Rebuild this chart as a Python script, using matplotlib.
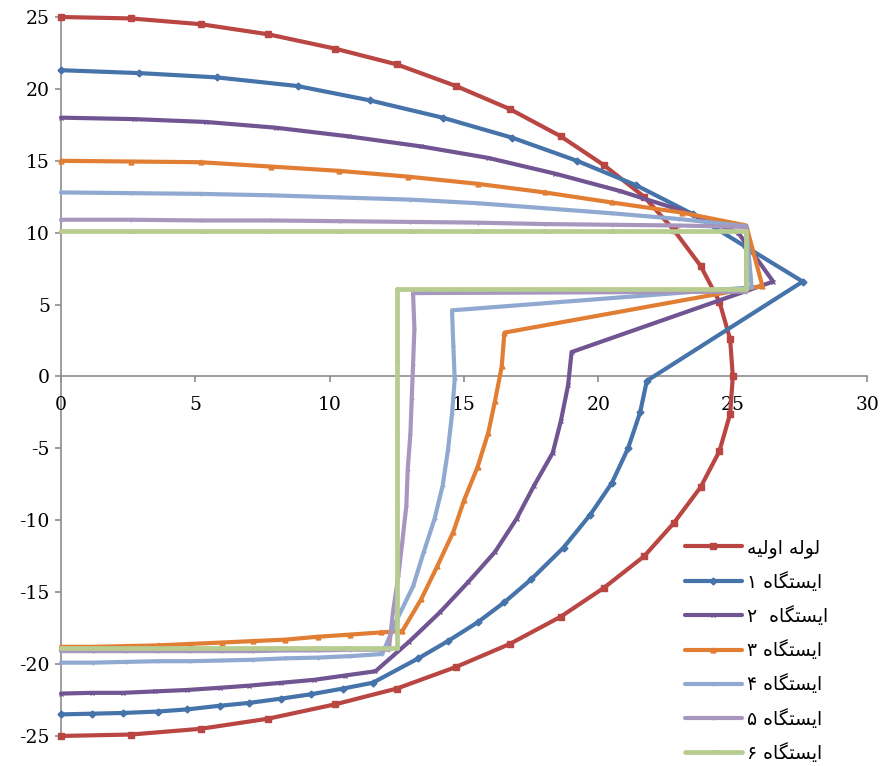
import matplotlib
matplotlib.use("Agg")
import matplotlib.pyplot as plt

plt.rcParams["axes.unicode_minus"] = False

# values (x, y pairs per series)
pipe_x = [0, 2.6, 5.2, 7.7, 10.2, 12.5, 14.7, 16.7, 18.6, 20.2, 21.7, 22.8, 23.8, 24.5, 24.9, 25.0,
          24.9, 24.5, 23.8, 22.8, 21.7, 20.2, 18.6, 16.7, 14.7, 12.5, 10.2, 7.7, 5.2, 2.6, 0]
pipe_y = [25, 24.9, 24.5, 23.8, 22.8, 21.7, 20.2, 18.6, 16.7, 14.7, 12.5, 10.2, 7.7, 5.2, 2.6, 0,
          -2.6, -5.2, -7.7, -10.2, -12.5, -14.7, -16.7, -18.6, -20.2, -21.7, -22.8, -23.8, -24.5, -24.9, -25]

st1_x = [0, 2.9, 5.8, 8.8, 11.5, 14.2, 16.8, 19.2, 21.4, 23.5, 25.5, 27.6,
         21.8, 21.55, 21.1, 20.5, 19.7, 18.7, 17.5, 16.5, 15.5, 14.4, 13.3, 11.6,
         10.5, 9.3, 8.2, 7.0, 5.9, 4.7, 3.6, 2.3, 1.15, 0]
st1_y = [21.3, 21.1, 20.8, 20.2, 19.2, 18.0, 16.6, 15.0, 13.3, 11.3, 9.0, 6.6,
         -0.3, -2.5, -5.0, -7.4, -9.6, -11.9, -14.1, -15.7, -17.1, -18.4, -19.6, -21.3,
         -21.7, -22.1, -22.4, -22.7, -22.9, -23.15, -23.3, -23.4, -23.45, -23.5]

st2_x = [0, 2.7, 5.4, 8.0, 10.7, 13.4, 15.9, 18.4, 20.8, 23.0, 25.2, 26.5,
         19.0, 18.87, 18.6, 18.3, 17.6, 16.95, 16.15, 15.15, 14.1, 12.95, 11.7,
         10.55, 9.4, 8.2, 7.0, 5.9, 4.7, 3.5, 2.3, 1.15, 0]
st2_y = [18.0, 17.9, 17.7, 17.3, 16.7, 16.0, 15.2, 14.1, 12.9, 11.6, 10.0, 6.6,
         1.7, -0.6, -3.1, -5.3, -7.6, -9.9, -12.2, -14.3, -16.4, -18.45, -20.5,
         -20.8, -21.1, -21.3, -21.5, -21.65, -21.8, -21.9, -22.0, -22.0, -22.05]

st3_x = [0, 2.6, 5.2, 7.8, 10.35, 12.9, 15.5, 18.0, 20.5, 23.1, 25.5,
         26.1, 16.5, 16.4, 16.15, 15.9, 15.5, 15.0, 14.6, 14.0, 13.4, 12.7,
         11.9, 10.75, 9.55, 8.35, 7.15, 6.0, 4.8, 3.6, 2.4, 1.2, 0]
st3_y = [15.0, 14.95, 14.9, 14.6, 14.3, 13.9, 13.4, 12.8, 12.1, 11.4, 10.5,
         6.3, 3.05, 0.7, -1.7, -3.9, -6.3, -8.6, -10.8, -13.2, -15.5, -17.7,
         -17.8, -17.95, -18.1, -18.3, -18.4, -18.5, -18.6, -18.7, -18.75, -18.8, -18.8]

st4_x = [0, 2.6, 5.2, 7.8, 10.4, 13.0, 15.5, 18.0, 20.5, 23.0, 25.5,
         25.7, 14.55, 14.6, 14.65, 14.55, 14.4, 14.2, 13.9, 13.5, 13.1, 12.5, 11.95,
         10.75, 9.55, 8.35, 7.15, 6.0, 4.8, 3.6, 2.4, 1.2, 0]
st4_y = [12.8, 12.75, 12.7, 12.6, 12.45, 12.3, 12.05, 11.7, 11.35, 10.95, 10.45,
         6.2, 4.6, 2.1, -0.2, -2.6, -5.1, -7.6, -9.9, -12.2, -14.6, -16.9, -19.3,
         -19.45, -19.55, -19.6, -19.7, -19.75, -19.8, -19.8, -19.85, -19.9, -19.9]

st5_x = [0, 2.6, 5.2, 7.8, 10.4, 13.0, 15.5, 18.0, 20.5, 23.0, 25.5,
         25.5, 13.1, 13.15, 13.1, 13.05, 13.0, 12.9, 12.85, 12.7, 12.55, 12.35, 12.2,
         10.75, 9.55, 8.35, 7.15, 6.0, 4.8, 3.6, 2.4, 1.2, 0]
st5_y = [10.9, 10.9, 10.85, 10.85, 10.8, 10.75, 10.7, 10.6, 10.55, 10.5, 10.4,
         5.9, 5.8, 3.3, 0.8, -1.6, -4.0, -6.5, -9.0, -11.5, -13.9, -16.4, -19.0,
         -19.0, -19.05, -19.05, -19.1, -19.1, -19.1, -19.1, -19.1, -19.1, -19.1]

st6_x = [0, 2.6, 5.2, 7.8, 10.4, 13.0, 15.5, 18.0, 20.5, 23.0, 25.5,
         25.5, 12.5, 12.5, 12.5, 12.5, 12.5, 12.5,
         10.75, 8.35, 6.0, 3.6, 1.2, 0]
st6_y = [10.1, 10.1, 10.1, 10.1, 10.1, 10.1, 10.1, 10.1, 10.1, 10.1, 10.1,
         6.1, 6.1, 1.1, -4.0, -9.0, -14.0, -18.9,
         -18.9, -18.9, -18.9, -18.9, -18.9, -18.9]

labels = ["لوله اولیه", "ایستگاه ۱", "ایستگاه  ۲", "ایستگاه ۳",
          "ایستگاه ۴", "ایستگاه ۵", "ایستگاه ۶"]
colors = ["#B94643", "#4573AA", "#715592", "#E17E34", "#8FA9D0", "#A797BE", "#B6CC90"]
markers = ["s", "D", "x", "^", "+", "+", "o"]
marker_sizes = [4.5, 3.5, 3.0, 3.5, 3.0, 3.0, 2.5]

# isolated, final, initial, medial presentation forms
FORMS = {
    "\u0627": ("\ufe8d", "\ufe8e", None, None),      # alef
    "\u0648": ("\ufeed", "\ufeee", None, None),      # waw
    "\u0644": ("\ufedd", "\ufede", "\ufedf", "\ufee0"),  # lam
    "\u0647": ("\ufee9", "\ufeea", "\ufeeb", "\ufeec"),  # heh
    "\u06cc": ("\ufbfc", "\ufbfd", "\ufbfe", "\ufbff"),  # farsi yeh
    "\u0633": ("\ufeb1", "\ufeb2", "\ufeb3", "\ufeb4"),  # seen
    "\u062a": ("\ufe95", "\ufe96", "\ufe97", "\ufe98"),  # teh
    "\u06af": ("\ufb92", "\ufb93", "\ufb94", "\ufb95"),  # gaf
}


def shape(text):
    # matplotlib has no arabic shaping, so pick glyph forms and lay out right to left
    out = []
    for i, ch in enumerate(text):
        if ch not in FORMS:
            out.append(ch)
            continue
        prev = text[i - 1] if i > 0 else ""
        nxt = text[i + 1] if i + 1 < len(text) else ""
        iso, fin, ini, med = FORMS[ch]
        joins_prev = prev in FORMS and FORMS[prev][2] is not None
        joins_next = ini is not None and nxt in FORMS
        if joins_prev and joins_next:
            out.append(med)
        elif joins_prev:
            out.append(fin)
        elif joins_next:
            out.append(ini)
        else:
            out.append(iso)
    return "".join(reversed(out))


series = [(pipe_x, pipe_y), (st1_x, st1_y), (st2_x, st2_y), (st3_x, st3_y),
          (st4_x, st4_y), (st5_x, st5_y), (st6_x, st6_y)]

fig = plt.figure(figsize=(8.82, 7.66), dpi=100)
ax = fig.add_axes([0.0692, 0.0392, 0.914, 0.9386])

for i, (xs, ys) in enumerate(series):
    ax.plot(xs, ys, color=colors[i], lw=3.4 if i == 6 else 3.0, marker=markers[i],
            ms=marker_sizes[i], mew=1.0, mfc=colors[i], mec=colors[i], label=shape(labels[i]),
            solid_joinstyle="round", solid_capstyle="round", clip_on=False)

ax.set_xlim(0, 30)
ax.set_ylim(-25, 25)
ax.set_xticks(range(0, 31, 5))
ax.set_yticks(range(-25, 26, 5))

for side in ["top", "right"]:
    ax.spines[side].set_visible(False)
ax.spines["bottom"].set_position(("data", 0))
for side in ["left", "bottom"]:
    ax.spines[side].set_color("#8C8C8C")
    ax.spines[side].set_linewidth(1.2)
    ax.spines[side].set_zorder(0)

ax.tick_params(axis="both", direction="out", length=4, width=1.2, color="#8C8C8C",
               labelsize=13.5, labelcolor="black")
ax.tick_params(axis="x", pad=10)
ax.tick_params(axis="y", pad=4)
for lab in ax.get_xticklabels() + ax.get_yticklabels():
    lab.set_family("DejaVu Serif")

ax.legend(loc="lower left", bbox_to_anchor=(0.777, 0.004), bbox_transform=fig.transFigure,
          frameon=False, prop={"family": "DejaVu Sans", "size": 13.5}, handlelength=3.0,
          handletextpad=0.3, labelspacing=0.76, numpoints=1, borderpad=0, borderaxespad=0)

fig.savefig("out.png", dpi=100)
